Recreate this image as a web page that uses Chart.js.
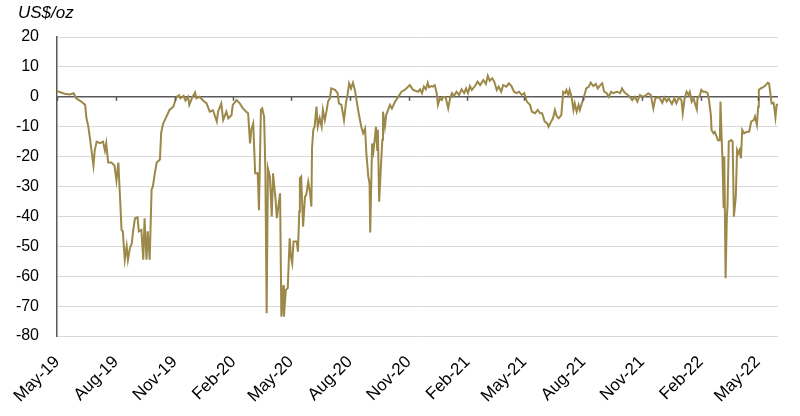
<!DOCTYPE html>
<html>
<head>
<meta charset="utf-8">
<script src="https://cdn.jsdelivr.net/npm/chart.js@4.4.1/dist/chart.umd.min.js"></script>
<style>
  html, body { margin: 0; padding: 0; background: #fff; }
  #wrap { width: 800px; height: 416px; position: relative; }
</style>
</head>
<body>
<div id="wrap"><canvas id="grafico"></canvas></div>
<script>
// fecha de inicio del eje
const startDate = '2019-05-01'

// fechas y valores (US$/oz)
const dates = [
  '2019-05-01','2019-05-06','2019-05-13','2019-05-21','2019-05-27','2019-05-31','2019-06-08','2019-06-14','2019-06-16','2019-06-19',
  '2019-06-21','2019-06-24','2019-06-27','2019-06-29','2019-07-02','2019-07-07','2019-07-12','2019-07-15','2019-07-17','2019-07-20',
  '2019-07-25','2019-07-30','2019-08-02','2019-08-05','2019-08-07','2019-08-10','2019-08-12','2019-08-15','2019-08-18','2019-08-20',
  '2019-08-23','2019-08-26','2019-08-28','2019-08-31','2019-09-04','2019-09-06','2019-09-10','2019-09-13','2019-09-15','2019-09-18',
  '2019-09-20','2019-09-23','2019-09-26','2019-09-28','2019-10-01','2019-10-04','2019-10-09','2019-10-11','2019-10-14','2019-10-19',
  '2019-10-24','2019-10-30','2019-11-04','2019-11-08',
  '2019-11-10','2019-11-15','2019-11-18','2019-11-22','2019-11-24','2019-11-28','2019-12-03','2019-12-05','2019-12-10','2019-12-16',
  '2019-12-21','2019-12-26','2019-12-31','2020-01-06','2020-01-08','2020-01-13','2020-01-16','2020-01-21','2020-01-24','2020-01-29',
  '2020-01-31','2020-02-06','2020-02-11','2020-02-16','2020-02-21','2020-02-24','2020-02-27','2020-02-29','2020-03-03','2020-03-06',
  '2020-03-10','2020-03-12','2020-03-15','2020-03-17','2020-03-20','2020-03-22','2020-03-24','2020-03-26','2020-03-29','2020-04-01',
  '2020-04-03','2020-04-07','2020-04-09','2020-04-14','2020-04-16','2020-04-19','2020-04-20','2020-04-23','2020-04-26','2020-04-29',
  '2020-05-01','2020-05-03','2020-05-05','2020-05-10','2020-05-12','2020-05-14',
  '2020-05-15','2020-05-17','2020-05-20','2020-05-23','2020-05-25','2020-05-28','2020-05-31','2020-06-02','2020-06-03','2020-06-05',
  '2020-06-07','2020-06-10','2020-06-12','2020-06-15','2020-06-18','2020-06-20','2020-06-23','2020-06-26','2020-06-28','2020-07-01',
  '2020-07-03','2020-07-09','2020-07-13','2020-07-15','2020-07-19','2020-07-23','2020-07-26','2020-07-29','2020-07-31','2020-08-03',
  '2020-08-06','2020-08-09','2020-08-12','2020-08-15','2020-08-19','2020-08-22','2020-08-25','2020-08-27','2020-08-30','2020-09-01',
  '2020-09-02','2020-09-05','2020-09-07','2020-09-09','2020-09-11','2020-09-13','2020-09-14','2020-09-16','2020-09-19','2020-09-21',
  '2020-09-22','2020-09-25','2020-09-27','2020-09-30','2020-10-03','2020-10-06','2020-10-11','2020-10-16','2020-10-21','2020-10-26',
  '2020-11-03','2020-11-08','2020-11-16',
  '2020-11-19','2020-11-22','2020-11-25','2020-11-28','2020-12-01','2020-12-03','2020-12-07','2020-12-09','2020-12-12','2020-12-15',
  '2020-12-17','2020-12-20','2020-12-23','2020-12-25','2020-12-29','2021-01-02','2021-01-05','2021-01-08','2021-01-11','2021-01-15',
  '2021-01-19','2021-01-23','2021-01-27','2021-01-30','2021-02-02','2021-02-05','2021-02-08','2021-02-13','2021-02-17','2021-02-21',
  '2021-02-26','2021-03-02','2021-03-05','2021-03-08','2021-03-12','2021-03-15','2021-03-19','2021-03-22','2021-03-26','2021-03-29',
  '2021-04-03','2021-04-07','2021-04-11','2021-04-15','2021-04-19','2021-04-23','2021-04-27','2021-05-01','2021-05-05','2021-05-10',
  '2021-05-13','2021-05-18','2021-05-22','2021-05-26',
  '2021-05-29','2021-06-02','2021-06-06','2021-06-08','2021-06-12','2021-06-15','2021-06-18','2021-06-21','2021-06-24','2021-06-28',
  '2021-07-01','2021-07-04','2021-07-06','2021-07-09','2021-07-11','2021-07-14','2021-07-17','2021-07-19','2021-07-22','2021-07-25',
  '2021-07-27','2021-07-30','2021-08-01','2021-08-04','2021-08-06','2021-08-10','2021-08-13','2021-08-17','2021-08-21','2021-08-24',
  '2021-08-28','2021-08-31','2021-09-03','2021-09-07','2021-09-10','2021-09-14','2021-09-17','2021-09-23','2021-09-28','2021-10-01',
  '2021-10-05','2021-10-10','2021-10-13','2021-10-17','2021-10-21','2021-10-25','2021-10-29','2021-11-02','2021-11-06','2021-11-11',
  '2021-11-15','2021-11-19','2021-11-22','2021-11-27',
  '2021-11-29','2021-12-03','2021-12-06','2021-12-10','2021-12-13','2021-12-18','2021-12-22','2021-12-25','2021-12-29','2022-01-02',
  '2022-01-04','2022-01-07','2022-01-10','2022-01-13','2022-01-15','2022-01-18','2022-01-21','2022-01-23','2022-01-26','2022-01-27',
  '2022-01-31','2022-02-02','2022-02-05','2022-02-09','2022-02-12','2022-02-14','2022-02-17','2022-02-18','2022-02-21','2022-02-23',
  '2022-02-26','2022-02-28','2022-03-03','2022-03-04','2022-03-06','2022-03-07','2022-03-09','2022-03-10','2022-03-12','2022-03-14',
  '2022-03-15','2022-03-17','2022-03-21','2022-03-23','2022-03-25','2022-03-28','2022-03-30','2022-04-01','2022-04-03','2022-04-05',
  '2022-04-07','2022-04-10','2022-04-14','2022-04-18','2022-04-21','2022-04-25','2022-04-27','2022-04-30','2022-05-02','2022-05-03',
  '2022-05-06','2022-05-10','2022-05-14','2022-05-17','2022-05-19','2022-05-21','2022-05-23','2022-05-26','2022-05-27','2022-05-29',
  '2022-05-31','2022-06-02'
]

const spread = [
  2, 1.5, 1, 0.8, 1.2, -0.5, -1.6, -2.7, -7, -10,
  -13, -18, -23, -18, -15, -15.5, -15, -18, -15.5, -22,
  -22, -23, -28, -22, -31, -44.5, -45, -54.5, -50, -54.5,
  -50.7, -49, -45, -40.6, -40.3, -45, -44.5, -54.5, -40.6, -54.5,
  -45, -54.5, -31, -30, -25.6, -22, -21, -12, -9, -6.7,
  -4.4, -3.3, 0, 0.5,
  -0.5, 0.3, -1.3, 0, -2.7, -0.5, 1.4, -0.5, 0, -1.3,
  -2.2, -5, -4.5, -8.3, -5, -2.2, -7.8, -5, -7.2, -6.2,
  -2.7, -1.1, -2.2, -3.9, -5, -5.5, -15.6, -11, -8.9, -25.6,
  -25.6, -37.9, -4.4, -3.9, -6.6, -24.5, -72.4, -24, -26.7, -40,
  -25.6, -34.5, -40.6, -32.3, -73.5, -63, -73.5, -64.6, -64, -47.3,
  -53.5, -55.7, -48.4, -48.4, -51.8, -38.4,
  -27.3, -26.7, -43.4, -33.4, -32.8, -28.4, -32.3, -36.7, -17.2, -11,
  -10, -3.3, -10, -7.2, -10, -4.4, -7.8, -4.4, -1.6, -0.5,
  2.8, 2.3, 1.2, -2.2, -2.7, -7.8, -2.2, 1.2, 4.5, 2.8,
  4.7, 2.3, -1.6, -5.5, -10, -12.2, -10.6, -18.9, -26.7, -28.9,
  -45.4, -15.6, -18.3, -14.4, -10, -17.8, -11, -35.1, -22.2, -14.4,
  -5, -10, -6.1, -4.4, -2.7, -3.9, -1.6, 0, 1.7, 2.3,
  3.9, 2.3, 1.7,
  2.5, 1.2, 3.4, 2.5, 4.7, 3.2, 3.6, 3.4, 3.9, 1.2,
  -2.7, -0.5, -1.1, 0, -0.2, -3.9, -0.5, 1.2, 0.3, 1.7,
  0.6, 2.5, 1.2, 2.8, 1.2, 3.6, 2.3, 3.6, 5.1, 3.9,
  5.6, 4.3, 7, 5.4, 6.2, 5.1, 2.3, 3.4, 1.7, 3.9,
  3.4, 4.5, 3.6, 1.7, 1.2, 1.7, 0.6, 1.2, -1.6, -2.7,
  -5, -5.5, -4.4, -5.5,
  -5.5, -8.3, -8.9, -10, -8.3, -7.2, -4.4, -6.6, -7.2, -6.1,
  1.7, 1.2, 2.3, 0.6, 2.3, 0, -4.4, -2.2, -5, -2.7,
  -4.4, -2.2, -1.1, 1.2, 2.8, 3.4, 4.7, 3.6, 4.3, 2.8,
  3.9, 4.5, 1.7, 1.2, 0, 1.7, 1.2, 1.7, 1.2, 2.8,
  1.4, 0.6, 0, -1.1, 0, -1.6, 0.6, 0, 0.3, 1.2,
  0.6, -3.9, -0.5, -0.2,
  -0.5, -2, -0.2, -1.6, -0.5, -2.4, -0.5, -2.2, -0.2, -1.1,
  -5.5, -0.5, 1.7, 0.6, 1.7, -1.6, -0.5, -2.2, -4.2, -0.5,
  0.6, 2.3, 1.7, 1.7, 1.2, -1.1, -6.1, -11.1, -12.2, -11.7,
  -13.3, -14.5, -14.5, -1.6, -15, -20, -37.3, -20, -60.7, -40.1,
  -36.7, -15, -14.5, -15, -40.1, -33.4, -17.8, -18.9, -17.8, -20.6,
  -11.1, -12.2, -11.7, -11.7, -8.3, -7.8, -6.6, -9.4, -3.3, 2.3,
  2.8, 3.2, 3.9, 4.7, 4.5, 1.2, -2.2, -2, -3.3, -6.9,
  -2.7, -2.7
]

// marcas trimestrales del eje x
const tickDates = ['2019-05-01','2019-08-01','2019-11-01','2020-02-01','2020-05-01','2020-08-01','2020-11-01',
  '2021-02-01','2021-05-01','2021-08-01','2021-11-01','2022-02-01','2022-05-01']
const tickLabels = ['May-19','Aug-19','Nov-19','Feb-20','May-20','Aug-20','Nov-20',
  'Feb-21','May-21','Aug-21','Nov-21','Feb-22','May-22']

const yMin = -80
const yMax = 20
const yStep = 10
const unitLabel = 'US$/oz'

//dias desde la fecha de inicio
const dayNum = (s) => {
  const [y, m, d] = s.split('-').map(Number)
  const [y0, m0, d0] = startDate.split('-').map(Number)
  return (Date.UTC(y, m - 1, d) - Date.UTC(y0, m0 - 1, d0)) / 86400000
}

let puntos = []
for (let i = 0; i < dates.length; i++) {
  puntos.push({ x: dayNum(dates[i]), y: spread[i] })
}

const fuente = "'Liberation Sans', Arial, sans-serif"

// texto de unidad arriba a la izquierda y marcas sobre la linea del cero
const extras = {
  id: 'extras',
  afterDraw(chart) {
    const ctx = chart.ctx
    const xs = chart.scales.x
    const ys = chart.scales.y
    const y0 = ys.getPixelForValue(0)
    ctx.save()
    ctx.strokeStyle = '#595959'
    ctx.lineWidth = 1.5
    for (let i = 0; i < tickDates.length; i++) {
      const px = Math.round(xs.getPixelForValue(dayNum(tickDates[i]))) + 0.5
      ctx.beginPath()
      ctx.moveTo(px, y0)
      ctx.lineTo(px, y0 + 4)
      ctx.stroke()
    }
    ctx.fillStyle = '#000'
    ctx.font = "italic 17px " + fuente
    ctx.textBaseline = 'alphabetic'
    ctx.fillText(unitLabel, 18, 18)
    ctx.restore()
  }
}

const config = {
  type: 'line',
  data: {
    datasets: [{
      data: puntos,
      borderColor: '#9C8848',
      borderWidth: 2,
      pointRadius: 0,
      tension: 0,
      fill: false
    }]
  },
  options: {
    responsive: true,
    maintainAspectRatio: false,
    animation: false,
    layout: { padding: { top: 37, right: 22, left: 0, bottom: 0 } },
    plugins: {
      legend: { display: false },
      tooltip: { enabled: false }
    },
    scales: {
      x: {
        type: 'linear',
        min: 0,
        max: dayNum(dates[dates.length - 1]),
        afterBuildTicks: (scale) => {
          scale.ticks = tickDates.map(d => ({ value: dayNum(d) }))
        },
        afterFit: (scale) => { scale.height = 80 },
        grid: { display: false },
        border: { display: false },
        ticks: {
          autoSkip: false,
          maxRotation: 45,
          minRotation: 45,
          padding: 8,
          color: '#000',
          font: { family: fuente, size: 17 },
          callback: (value, index) => tickLabels[index]
        }
      },
      y: {
        min: yMin,
        max: yMax,
        afterFit: (scale) => { scale.width = 57 },
        ticks: {
          stepSize: yStep,
          padding: 18,
          color: '#000',
          font: { family: fuente, size: 16 }
        },
        grid: {
          drawTicks: false,
          color: (c) => c.tick && c.tick.value === 0 ? '#595959' : '#d9d9d9',
          lineWidth: (c) => c.tick && c.tick.value === 0 ? 1.5 : 1
        },
        border: { display: true, color: '#595959', width: 1.5 }
      }
    }
  },
  plugins: [extras]
}

const myChart = new Chart(document.getElementById('grafico'), config)
</script>
</body>
</html>
